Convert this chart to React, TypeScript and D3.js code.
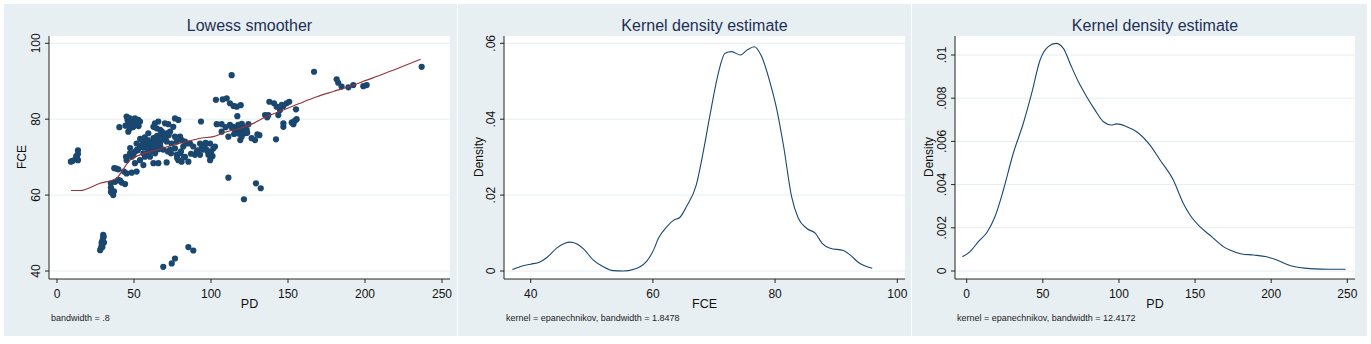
import React from 'react';
import * as d3 from 'd3';

// ---------- DATA ----------
const scatterPD = [
  9, 10, 12, 13, 13.6, 13.6, 13.6, 12.5,
  30, 30, 29.5, 29, 30.5, 29, 28.5, 28, 29.5, 30.3,
  69, 74.5, 76.6, 85.3, 88.5,
  35, 35.5, 36, 36.5, 37, 35,
  37.2, 39.8, 37.7, 39.8, 42, 44.2, 45.2, 43.5, 35, 41, 38.5,
  40.5, 45.2, 46.3, 48.5, 50.6, 52.8, 49.6, 51.7, 47.4, 53.9, 46.3, 45.8, 47, 49, 51, 53, 44.5, 48,
  45.2, 44.8, 48.5, 47.4, 50.6, 51.7, 53.9, 56.1, 58.2, 56.1, 59.3, 60.4, 53.9, 50.6, 51.7, 48.5, 56.1, 57.1,
  59.3, 62.6, 64.7, 66.9, 64.7, 61.5, 62.6, 63.7, 62.6, 65.8, 71.2, 63.6, 65.8, 62.6, 64.7, 70.1, 72.3, 76.6, 78.8,
  75.5, 69, 71.2, 73.4, 66.9, 70.1, 68, 65.8, 71.2, 73.4, 76.6, 77.7, 79.9, 78.8, 80.9, 85.3, 83.1, 82, 84.2,
  86.4, 88.5, 90.7, 89.6, 92.9, 94, 92.9, 96.1, 97.2, 98.3, 99.4, 100.4, 101.5, 102.6, 99.4, 93.5, 79.9, 81, 83.1,
  76.6, 74.3, 77.7, 55, 58, 60, 67, 69, 72, 54, 57,
  52, 54.5, 57.5, 59, 61, 63, 65, 67.5, 60, 62, 64, 66, 68, 58.5, 61.5, 63.5, 49.5, 52.5, 55.5, 47.5,
  87, 91.5, 95, 98, 100, 101, 96.5, 74, 78, 80.5, 82.5, 72.5, 70.5, 67,
  103.2, 107.6, 110.2, 112.3, 114.6, 116.7, 119.3, 113.4, 103.7, 106.9, 106.9, 111.3, 112.3, 114.5, 115.6, 117.7,
  117.1, 119, 119.9, 121, 123.2, 122.1, 124.3, 119, 126.4, 128.6, 130.1, 131.4, 116, 118, 120.5,
  113.5, 118.5, 121.5, 123.5, 115, 120, 109.5,
  111.3, 121.4, 129.2, 132.3,
  135.1, 137.2, 137.9, 140.9, 142.6, 143.7, 144.8, 147, 149.1, 150.8, 147, 147, 142.2, 152.4, 154.5, 155.6, 153.5, 155.2,
  136.5, 146, 153,
  166.9, 181.6, 182.6, 184.8, 189.2, 192.4, 198.9, 201.1, 236.8,
];
const scatterFCE = [
  68.8, 69, 69.5, 70, 71.8, 70.8, 69.2, 70.3,
  49.5, 48.8, 48, 47.5, 47.5, 46.8, 46, 45.5, 46.3, 49,
  41.1, 42, 43.3, 46.3, 45.4,
  62, 61.3, 60.5, 60, 61, 60.8,
  67.1, 66.8, 63.5, 64, 63.3, 62.9, 65.7, 66.2, 63.1, 63.8, 67,
  77.9, 80.7, 78.9, 79.8, 80.2, 79.8, 78, 78.5, 77.6, 79.4, 76.7, 79.8, 80.3, 77.9, 79.2, 78.2, 78.3, 79.1,
  69.2, 70.1, 70.1, 71, 71.4, 73.6, 72.8, 74.1, 72.8, 71, 71.4, 70.1, 69.2, 68.4, 66.2, 65.9, 67.9, 70.1,
  76.3, 75, 74.5, 73.6, 72.8, 72.8, 71.9, 71, 68.4, 68.4, 68.6, 78.9, 79.4, 78, 77.6, 78.9, 78.7, 80.2, 79.8,
  78, 76.3, 76.3, 76.7, 75.8, 75.4, 74.5, 75.4, 74.1, 71.9, 72.3, 70.6, 71, 69.2, 68.8, 68.8, 70.1, 72.8, 73.6,
  73.6, 72.8, 71.4, 70.6, 70.6, 72.3, 73.6, 73.2, 71.9, 70.6, 69.2, 70.1, 72.3, 72.8, 73.6, 79.4, 75.4, 74.5, 74.1,
  75.4, 73.6, 74.1, 73.2, 72.5, 73.5, 73, 72, 71.5, 74.8, 75.2,
  72, 73, 73.8, 74.5, 73.3, 74.8, 75.6, 74.8, 72.2, 73.9, 73, 72.1, 76.8, 70.8, 71.6, 72.2, 70.5, 71.8, 72.6, 72.4,
  70.9, 71.8, 72, 71.5, 71.3, 70.3, 73.8, 71, 69.8, 71.5, 70, 75.8, 74.8, 77.2,
  85.1, 85.2, 85.5, 84.2, 83.5, 83.3, 83.7, 91.6, 78.7, 78.7, 76.7, 75.4, 78.5, 78, 77.2, 78.5,
  80.8, 76.7, 75.4, 78, 77.2, 76.3, 78.7, 74.5, 75, 74.5, 76, 75.8, 77, 76.2, 77.6,
  77.8, 77.5, 77.3, 76.4, 76.1, 78.8, 77.9,
  64.6, 58.9, 63.1, 61.8,
  81.1, 81.1, 84.6, 84.2, 83.3, 81.1, 82.4, 83.5, 84.2, 84.6, 78, 78.9, 74.7, 79.1, 79.6, 80, 78.7, 82.6,
  80.5, 83.8, 79.2,
  92.5, 90.5, 89.6, 88.6, 88.4, 89, 88.7, 89, 93.8,
];

const lowessPD = [9.1, 14.9, 27.9, 38.7, 42, 47.4, 53.9, 64.7, 75.5, 84.2, 93.4, 101.5, 110.2, 118.8, 127.5, 136.1, 147, 157.8, 168.6, 179.4, 190.3, 201.1, 211.9, 222.7, 236.1];
const lowessFCE = [61.2, 61.2, 63.1, 64.4, 66.2, 69.2, 70.6, 71.9, 73.2, 74.1, 75, 75.4, 76.7, 77.6, 78.9, 80.7, 82.4, 84.2, 85.9, 87.3, 88.7, 90.3, 91.9, 93.6, 95.8];

const kdeFceX = [37.0, 38.8, 40, 41.5, 42.6, 44.3, 45.6, 46.4, 47.5, 48.6, 50.3, 51.9, 53.5, 55.2, 56.8, 57.9, 59.0, 60.1, 60.9, 62.3, 63.4, 64.4, 65.5, 67.1, 68.3, 69.4, 70.7, 71.8, 72.9, 74.3, 75.4, 76.6, 77.8, 79.2, 80.3, 81.4, 82.7, 83.8, 85.2, 86.6, 87.7, 89.0, 91.2, 92.3, 93.6, 95.9];
const kdeFceY = [0.0004, 0.0014, 0.0018, 0.0024, 0.0035, 0.0061, 0.0073, 0.0076, 0.0072, 0.0059, 0.0028, 0.0011, 0.0001, 0, 0.0004, 0.0011, 0.0026, 0.0055, 0.0086, 0.0117, 0.0134, 0.0141, 0.0170, 0.0227, 0.0319, 0.0416, 0.0521, 0.0574, 0.0578, 0.0569, 0.0582, 0.0591, 0.0565, 0.0495, 0.0424, 0.0328, 0.0196, 0.0139, 0.0112, 0.0099, 0.0073, 0.0060, 0.0054, 0.0042, 0.0023, 0.0007];

const kdePdX = [-2.8, 2.2, 7.7, 13.6, 18.6, 24.1, 30.6, 37.2, 42.7, 48.2, 53.6, 58.7, 63.5, 67.9, 73.3, 78.8, 84.3, 89.8, 95.2, 98.5, 105.1, 111.6, 120.4, 127.0, 135.7, 142.3, 146.7, 153.2, 160.9, 168.6, 172.9, 180.6, 188.3, 197.0, 203.6, 213.4, 225.5, 238.6, 248.9];
const kdePdY = [0.00066, 0.00090, 0.00136, 0.00182, 0.00252, 0.00375, 0.00545, 0.00684, 0.00823, 0.00977, 0.01039, 0.01054, 0.01031, 0.00961, 0.00877, 0.00807, 0.00745, 0.00691, 0.00676, 0.00681, 0.00668, 0.00645, 0.00583, 0.00514, 0.00421, 0.00313, 0.00259, 0.00205, 0.00159, 0.00113, 0.00097, 0.00079, 0.00074, 0.00066, 0.00051, 0.00023, 0.00011, 0.00008, 0.00008];

const pdTicks = [0, 50, 100, 150, 200, 250];
const fceYTicks = [40, 60, 80, 100];
const fceXTicks = [40, 60, 80, 100];
const dens1Ticks = [0, 0.02, 0.04, 0.06];
const dens1Labels = ['0', '.02', '.04', '.06'];
const dens2Ticks = [0, 0.002, 0.004, 0.006, 0.008, 0.01];
const dens2Labels = ['0', '.002', '.004', '.006', '.008', '.01'];

// ---------- STYLE ----------
const FONT = 'Arial, "Liberation Sans", Helvetica, sans-serif';
const BG = '#e8eff2';
const GRID = '#e6eef1';
const NAVY = '#1a476f';
const MAROON = '#90353b';
const TITLE = '#1e2f55';

type PanelProps = {
  bgX: number; bgW: number;
  left: number; right: number; top: number; bottom: number;
  x: d3.ScaleLinear<number, number>;
  y: d3.ScaleLinear<number, number>;
  xTicks: number[]; xLabels: string[];
  yTicks: number[]; yLabels: string[];
  title: string; xTitle: string; yTitle: string; note: string;
  yTitleOffset: number;
  children?: React.ReactNode;
};

function Panel(p: PanelProps) {
  const cx = (p.left + p.right) / 2;
  return (
    <g>
      <rect x={p.bgX} y={4} width={p.bgW} height={332} fill={BG} />
      <rect x={p.left} y={p.top} width={p.right - p.left} height={p.bottom - p.top} fill="#fff" />
      {p.yTicks.map((t, i) => (
        <line key={'g' + i} x1={p.left} x2={p.right} y1={p.y(t)} y2={p.y(t)} stroke={GRID} strokeWidth={1} />
      ))}
      {p.children}
      <line x1={p.left} x2={p.left} y1={p.top} y2={p.bottom} stroke="#222" strokeWidth={1} />
      <line x1={p.left} x2={p.right} y1={p.bottom} y2={p.bottom} stroke="#222" strokeWidth={1} />
      {p.yTicks.map((t, i) => (
        <g key={'yt' + i}>
          <line x1={p.left - 4} x2={p.left} y1={p.y(t)} y2={p.y(t)} stroke="#222" />
          <text transform={`translate(${p.left - 9.5},${p.y(t)}) rotate(-90)`} textAnchor="middle"
            fontFamily={FONT} fontSize={12} fill="#111">{p.yLabels[i]}</text>
        </g>
      ))}
      {p.xTicks.map((t, i) => (
        <g key={'xt' + i}>
          <line x1={p.x(t)} x2={p.x(t)} y1={p.bottom} y2={p.bottom + 4} stroke="#222" />
          <text x={p.x(t)} y={298} textAnchor="middle" fontFamily={FONT} fontSize={12} fill="#111">{p.xLabels[i]}</text>
        </g>
      ))}
      <text x={cx} y={31} textAnchor="middle" fontFamily={FONT} fontSize={16} fill={TITLE}>{p.title}</text>
      <text x={cx} y={307.5} textAnchor="middle" fontFamily={FONT} fontSize={12.5} fill="#111">{p.xTitle}</text>
      <text transform={`translate(${p.left - p.yTitleOffset},157) rotate(-90)`} textAnchor="middle"
        fontFamily={FONT} fontSize={12} fill="#111">{p.yTitle}</text>
      <text x={p.left + 2} y={321} fontFamily={FONT} fontSize={9} fill="#222">{p.note}</text>
    </g>
  );
}

export default function App() {
  // Panel 1: Lowess
  const x1 = d3.scaleLinear().domain([0, 250]).range([57, 442]);
  const y1 = d3.scaleLinear().domain([40, 100]).range([271, 43.3]);
  // Panel 2: KDE of FCE
  const x2 = d3.scaleLinear().domain([40, 100]).range([530.7, 897.3]);
  const y2 = d3.scaleLinear().domain([0, 0.06]).range([271, 43.3]);
  // Panel 3: KDE of PD
  const x3 = d3.scaleLinear().domain([0, 250]).range([966.7, 1347.3]);
  const y3 = d3.scaleLinear().domain([0, 0.01]).range([271, 55]);

  const lowessLine = d3.line<number>().x((d, i) => x1(lowessPD[i])).y((d, i) => y1(lowessFCE[i])).curve(d3.curveMonotoneX);
  const kde1Line = d3.line<number>().x((d, i) => x2(kdeFceX[i])).y((d, i) => y2(kdeFceY[i])).curve(d3.curveMonotoneX);
  const kde2Line = d3.line<number>().x((d, i) => x3(kdePdX[i])).y((d, i) => y3(kdePdY[i])).curve(d3.curveMonotoneX);

  return (
    <svg width={1371} height={344} style={{ position: 'absolute', left: 0, top: 0, background: '#fff' }}>
      <Panel bgX={4} bgW={453} left={49} right={450} top={36} bottom={279} x={x1} y={y1}
        xTicks={pdTicks} xLabels={pdTicks.map(String)} yTicks={fceYTicks} yLabels={fceYTicks.map(String)}
        title="Lowess smoother" xTitle="PD" yTitle="FCE" note="bandwidth = .8" yTitleOffset={23}>
        {scatterPD.map((v, i) => (
          <circle key={i} cx={x1(v)} cy={y1(scatterFCE[i])} r={3.1} fill={NAVY} />
        ))}
        <path d={lowessLine(lowessPD) || ''} fill="none" stroke={MAROON} strokeWidth={1.1} />
      </Panel>
      <Panel bgX={458} bgW={453} left={504} right={905} top={36} bottom={279} x={x2} y={y2}
        xTicks={fceXTicks} xLabels={fceXTicks.map(String)} yTicks={dens1Ticks} yLabels={dens1Labels}
        title="Kernel density estimate" xTitle="FCE" yTitle="Density" note="kernel = epanechnikov, bandwidth = 1.8478" yTitleOffset={21}>
        <path d={kde1Line(kdeFceX) || ''} fill="none" stroke={NAVY} strokeWidth={1.1} />
      </Panel>
      <Panel bgX={912} bgW={455} left={955} right={1355} top={36} bottom={279} x={x3} y={y3}
        xTicks={pdTicks} xLabels={pdTicks.map(String)} yTicks={dens2Ticks} yLabels={dens2Labels}
        title="Kernel density estimate" xTitle="PD" yTitle="Density" note="kernel = epanechnikov, bandwidth = 12.4172" yTitleOffset={22.5}>
        <path d={kde2Line(kdePdX) || ''} fill="none" stroke={NAVY} strokeWidth={1.1} />
      </Panel>
    </svg>
  );
}
